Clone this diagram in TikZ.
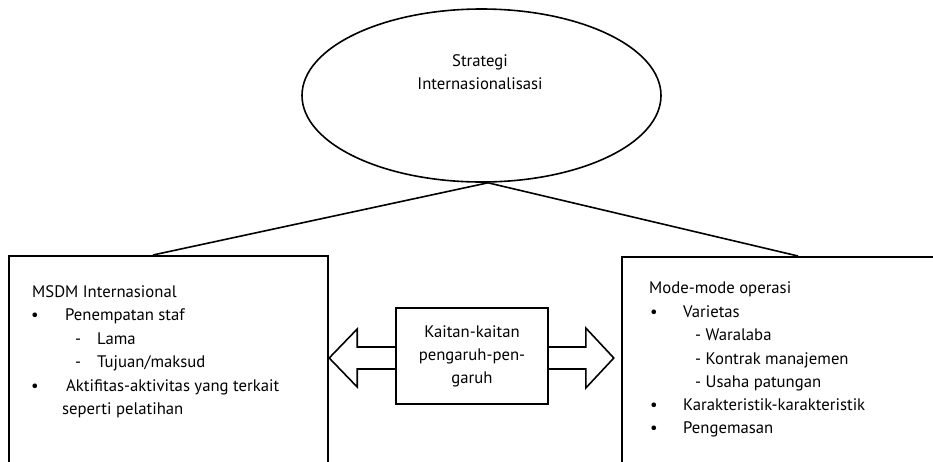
\documentclass[tikz,border=0pt]{standalone}
\usepackage{fontspec}
\setmainfont{PT Sans}
\usetikzlibrary{calc,shapes.geometric}
\begin{document}
\begin{tikzpicture}[x=1pt,y=-1pt,
  every node/.style={font=\fontsize{16.7}{23}\selectfont},
  frame/.style={draw, line width=1.6pt, inner sep=0pt},
  txt/.style={anchor=base west, inner sep=0pt},
  link/.style={line width=1.6pt},
  blockarrow/.style={line width=1.6pt, line join=miter}]
\clip (0,0) rectangle (933,461);
\fill[white] (0,0) rectangle (933,461);

% top: strategy ellipse
\node[frame, ellipse, minimum width=359pt, minimum height=173pt] (strat) at (481.5,95.5) {};
\node[align=center, inner sep=0pt] (strattxt) at (480,72.5) {Strategi\\Internasionalisasi};

% the two side boxes (open towards the bottom / right edge)
\node[frame, anchor=north west, minimum width=319pt, minimum height=240pt] (lbox) at (8,255) {};
\node[frame, anchor=north west, minimum width=340pt, minimum height=240pt] (rbox) at (621,256) {};

% links from the ellipse down to the boxes
\coordinate (apex) at ($(strat.south)+(6.5,0)$);
\coordinate (ltop) at ($(lbox.north west)+(145,0)$);
\coordinate (rtop) at ($(rbox.north west)+(177,0)$);
\draw[link] (apex) -- (ltop);
\draw[link] (apex) -- (rtop);

% middle box with its two block arrows
\node[frame, minimum width=152pt, minimum height=96pt, align=center] (kait) at (472,356)
  {Kaitan-kaitan\\pengaruh-pen-\\garuh};
\draw[blockarrow] ($(kait.west)+(0,-9)$) -- ++(-38,0) -- ++(0,-18) -- ++(-28,29)
  -- ++(28,29) -- ++(0,-18) -- ++(38,0);
\draw[blockarrow] ($(kait.east)+(0,-9)$) -- ++(37,0) -- ++(0,-19) -- ++(28,30)
  -- ++(-28,30) -- ++(0,-19) -- ++(-37,0);

% left box contents
\node[txt] (l1) at (32,297) {MSDM Internasional};
\node[txt] (l2b) at (31,320.5) {•};
\node[txt] (l2) at (65,320.5) {Penempatan staf};
\node[txt] (l3d) at (75,344) {-};
\node[txt] (l3) at (97,344) {Lama};
\node[txt] (l4d) at (75,367.5) {-};
\node[txt] (l4) at (97,367.5) {Tujuan/maksud};
\node[txt] (l5b) at (31,391) {•};
\node[txt] (l5) at (66,391) {Aktifitas-aktivitas yang terkait};
\node[txt] (l6) at (62,414) {seperti pelatihan};

% right box contents
\node[txt] (r1) at (649,293) {Mode-mode operasi};
\node[txt] (r2b) at (650,317) {•};
\node[txt] (r2) at (683,317) {Varietas};
\node[txt] (r3) at (695,340) {- Waralaba};
\node[txt] (r4) at (695,364) {- Kontrak manajemen};
\node[txt] (r5) at (695,387) {- Usaha patungan};
\node[txt] (r6b) at (650,410) {•};
\node[txt] (r6) at (683,410) {Karakteristik-karakteristik};
\node[txt] (r7b) at (650,433) {•};
\node[txt] (r7) at (683,433) {Pengemasan};
\end{tikzpicture}
\end{document}
